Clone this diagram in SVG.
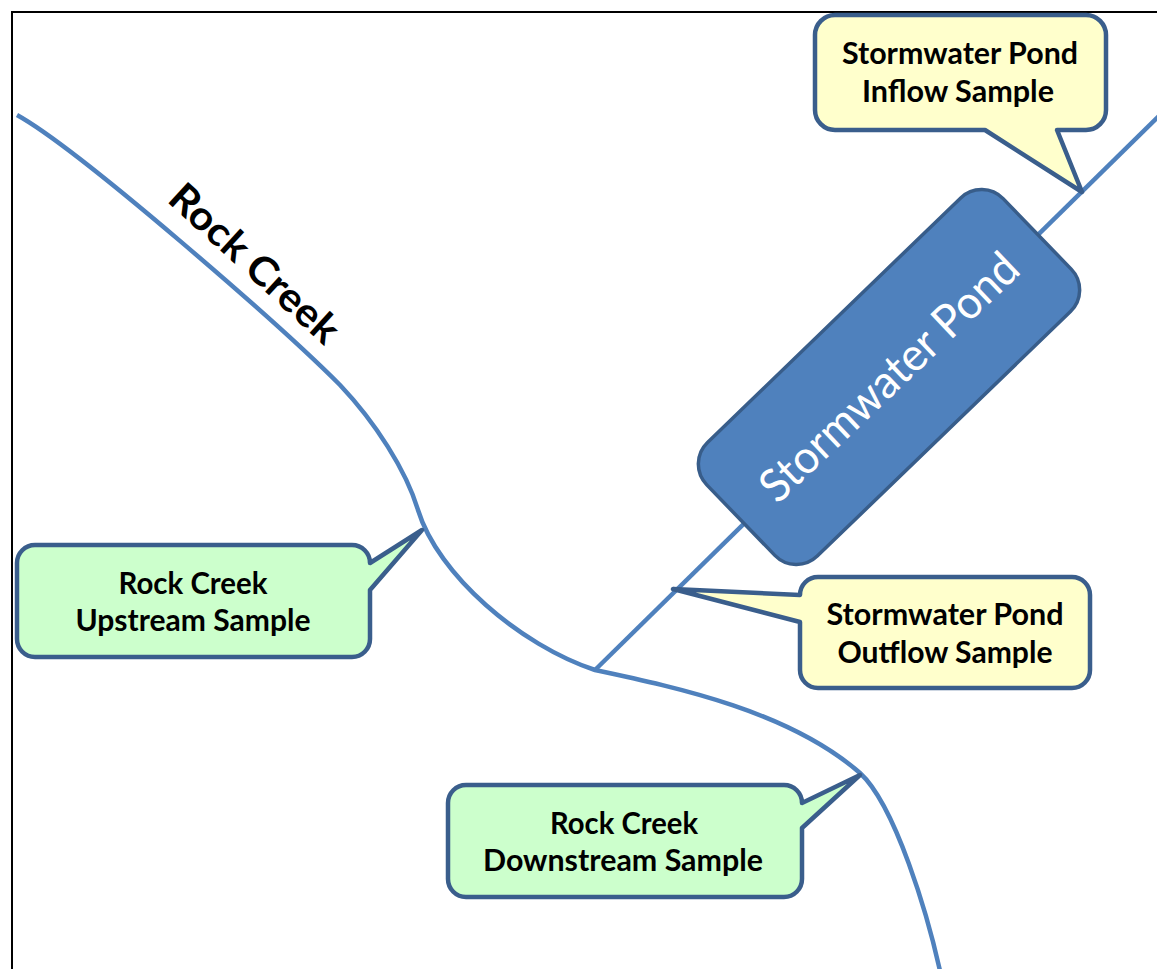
<svg xmlns="http://www.w3.org/2000/svg" width="1157" height="969" viewBox="0 0 1157 969">
<style>
.water{fill:none;stroke:#4F81BD;stroke-width:4.5;stroke-linecap:butt}
.call{stroke:#3A5E8C;stroke-width:4.5;stroke-linejoin:round}
.yel{fill:#FFFFCC}
.grn{fill:#CCFFCC}
.lbl{font-family:Lato,"Liberation Sans",sans-serif;font-weight:bold;font-size:30px;fill:#000;text-anchor:middle}
</style>
<rect x="12" y="12" width="1160" height="975" fill="#FFFFFF" stroke="#000" stroke-width="2"/>
<g id="connectors">
<path class="water" d="M17,115 C80,150 280,325 340,385 C375,422 406,470 418,510 C438,575 520,645 595,670 C680,688 790,712 860,773 C895,805 928,914 942,980"/>
<path class="water" d="M595,670 L1162,113"/>
</g>
<g id="rock-creek-label">
<text transform="translate(166,201) rotate(42.5)" font-family="Lato,'Liberation Sans',sans-serif" font-weight="bold" font-size="40" textLength="215" lengthAdjust="spacingAndGlyphs" fill="#000">Rock Creek</text>
</g>
<g id="pond">
<rect x="-206" y="-79" width="412" height="158" rx="30" ry="30" transform="translate(889,377) rotate(-44)" fill="#4F81BD" stroke="#385D8A" stroke-width="3.5"/>
<text transform="translate(889,377) rotate(-43.5)" x="0" y="16" font-family="Lato,'Liberation Sans',sans-serif" font-size="46" fill="#FFFFFF" text-anchor="middle" textLength="338" lengthAdjust="spacingAndGlyphs">Stormwater Pond</text>
</g>
<g id="inflow-sample">
<path class="call yel" d="M835,15 H1086 A20,20 0 0 1 1106,35 V110 A20,20 0 0 1 1086,130 H1057 L1082,192 L985,130 H835 A20,20 0 0 1 815,110 V35 A20,20 0 0 1 835,15 Z"/>
<text class="lbl" x="960" y="64" textLength="236" lengthAdjust="spacingAndGlyphs">Stormwater Pond</text>
<text class="lbl" x="958" y="102" textLength="192" lengthAdjust="spacingAndGlyphs">Inflow Sample</text>
</g>
<g id="upstream-sample">
<path class="call grn" d="M35,545 H352 A18,18 0 0 1 370,563 L422,530 L370,590 V639 A18,18 0 0 1 352,657 H35 A18,18 0 0 1 17,639 V563 A18,18 0 0 1 35,545 Z"/>
<text class="lbl" x="193" y="594" textLength="149" lengthAdjust="spacingAndGlyphs">Rock Creek</text>
<text class="lbl" x="193" y="631" textLength="235" lengthAdjust="spacingAndGlyphs">Upstream Sample</text>
</g>
<g id="outflow-sample">
<path class="call yel" d="M818,577 H1072 A18,18 0 0 1 1090,595 V670 A18,18 0 0 1 1072,688 H818 A18,18 0 0 1 800,670 V622 L673,589 L800,595 A18,18 0 0 1 818,577 Z"/>
<text class="lbl" x="945" y="625" textLength="237" lengthAdjust="spacingAndGlyphs">Stormwater Pond</text>
<text class="lbl" x="945" y="663" textLength="215" lengthAdjust="spacingAndGlyphs">Outflow Sample</text>
</g>
<g id="downstream-sample">
<path class="call grn" d="M466,785 H784 A18,18 0 0 1 802,803 L860,775 L802,828 V879 A18,18 0 0 1 784,897 H466 A18,18 0 0 1 448,879 V803 A18,18 0 0 1 466,785 Z"/>
<text class="lbl" x="624" y="834" textLength="148" lengthAdjust="spacingAndGlyphs">Rock Creek</text>
<text class="lbl" x="623" y="871" textLength="280" lengthAdjust="spacingAndGlyphs">Downstream Sample</text>
</g>
</svg>
